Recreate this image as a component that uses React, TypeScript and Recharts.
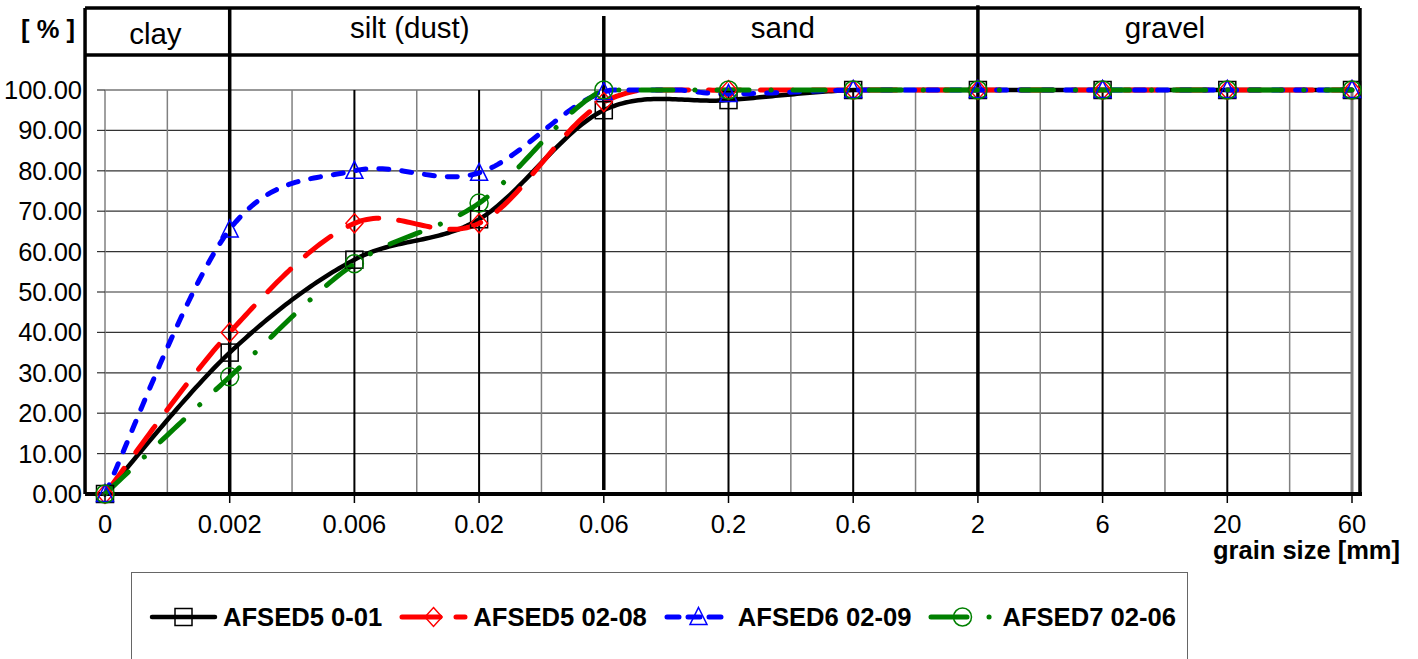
import React from 'react';
import {
  LineChart,
  Line,
  XAxis,
  YAxis,
  CartesianGrid,
  ReferenceLine,
  ReferenceArea,
  Legend
} from 'recharts';

// grain size classes (mm) and cumulative passing (%)
const grainSizes = ['0', '0.002', '0.006', '0.02', '0.06', '0.2', '0.6', '2', '6', '20', '60'];
const afsed5_001 = [0, 35, 58, 68, 95, 97.5, 100, 100, 100, 100, 100];
const afsed5_0208 = [0, 40, 67, 67, 97, 100, 100, 100, 100, 100, 100];
const afsed6_0209 = [0, 65.5, 80, 79.5, 99.5, 99, 100, 100, 100, 100, 100];
const afsed7_0206 = [0, 29, 57, 72, 100, 100, 100, 100, 100, 100, 100];
const sampleNames = ['AFSED5 0-01', 'AFSED5 02-08', 'AFSED6 02-09', 'AFSED7 02-06'];
const percentTicks = [0, 10, 20, 30, 40, 50, 60, 70, 80, 90, 100];
const fractionNames = ['clay', 'silt (dust)', 'sand', 'gravel'];
const fractionBounds = [0, 1, 4, 7, 10];

const FONT = '"Liberation Sans", Arial, sans-serif';
const W = 1418;
const H = 659;

// frame edges expressed in axis units (the frame sits outside the plotting area)
const FRAME_LEFT = -0.16;
const FRAME_RIGHT = 10.064;
const HEADER_TOP = 120.3;
const HEADER_BOTTOM = 108.66;

const rows = grainSizes.map((size, i) => ({
  i,
  size,
  s0: afsed5_001[i],
  s1: afsed5_0208[i],
  s2: afsed6_0209[i],
  s3: afsed7_0206[i]
}));

type Shape = 'square' | 'diamond' | 'triangle' | 'circle';

const seriesStyle: { key: string; color: string; dash?: string; width: number; shape: Shape; legendDash?: string }[] = [
  { key: 's0', color: '#000000', width: 4.5, shape: 'square' },
  { key: 's1', color: '#ff0000', dash: '32 20', width: 5, shape: 'diamond', legendDash: '38 16' },
  { key: 's2', color: '#0000ff', dash: '10 13', width: 5, shape: 'triangle', legendDash: '12 9' },
  { key: 's3', color: '#008000', dash: '32 22 0.1 22', width: 5, shape: 'circle', legendDash: '36 22 0.1 30' }
];

// Excel-like smoothing: cubic Bezier segments with Catmull-Rom control points,
// flattened and kept below the highest point (the plot top at 100 %)
const smoothCurve = (context: any) => {
  let xs: number[] = [];
  let ys: number[] = [];
  return {
    areaStart() {},
    areaEnd() {},
    lineStart() {
      xs = [];
      ys = [];
    },
    point(x: number, y: number) {
      xs.push(+x);
      ys.push(+y);
    },
    lineEnd() {
      const n = xs.length;
      if (!n) return;
      const top = Math.min(...ys);
      context.moveTo(xs[0], ys[0]);
      for (let i = 0; i < n - 1; i++) {
        const a = Math.max(i - 1, 0);
        const d = Math.min(i + 2, n - 1);
        const x0 = xs[i];
        const y0 = ys[i];
        const x1 = xs[i] + (xs[i + 1] - xs[a]) / 6;
        const y1 = ys[i] + (ys[i + 1] - ys[a]) / 6;
        const x2 = xs[i + 1] - (xs[d] - xs[i]) / 6;
        const y2 = ys[i + 1] - (ys[d] - ys[i]) / 6;
        const x3 = xs[i + 1];
        const y3 = ys[i + 1];
        const steps = 40;
        for (let s = 1; s <= steps; s++) {
          const t = s / steps;
          const u = 1 - t;
          const bx = u * u * u * x0 + 3 * u * u * t * x1 + 3 * u * t * t * x2 + t * t * t * x3;
          const by = u * u * u * y0 + 3 * u * u * t * y1 + 3 * u * t * t * y2 + t * t * t * y3;
          context.lineTo(bx, Math.max(by, top));
        }
      }
    }
  };
};

const Marker = ({ shape, cx, cy, color }: { shape: Shape; cx: number; cy: number; color: string }) => {
  const h = 8.5;
  if (shape === 'square')
    return <rect x={cx - h} y={cy - h} width={2 * h} height={2 * h} fill="none" stroke={color} strokeWidth={1.5} />;
  if (shape === 'diamond')
    return (
      <polygon
        points={`${cx},${cy - h - 1} ${cx + h},${cy} ${cx},${cy + h + 1} ${cx - h},${cy}`}
        fill="none"
        stroke={color}
        strokeWidth={1.5}
      />
    );
  if (shape === 'triangle')
    return (
      <polygon
        points={`${cx},${cy - h - 1} ${cx + h},${cy + h - 1} ${cx - h},${cy + h - 1}`}
        fill="none"
        stroke={color}
        strokeWidth={1.5}
      />
    );
  return <circle cx={cx} cy={cy} r={h + 0.5} fill="none" stroke={color} strokeWidth={1.5} />;
};

const LegendBox = () => (
  <div
    style={{
      boxSizing: 'border-box',
      width: 1057,
      height: 88,
      borderTop: '1.5px solid #666',
      borderLeft: '1.5px solid #666',
      borderRight: '1.5px solid #666',
      background: '#fff',
      display: 'flex',
      alignItems: 'center',
      paddingLeft: 18,
      fontFamily: FONT,
      fontWeight: 'bold',
      fontSize: 25.6,
      color: '#000',
      whiteSpace: 'nowrap'
    }}
  >
    {seriesStyle.map((s, k) => (
      <div key={s.key} style={{ display: 'flex', alignItems: 'center', marginRight: 18, flexShrink: 0 }}>
        <svg width={67} height={24} style={{ overflow: 'visible', flexShrink: 0 }}>
          <line
            x1={2}
            y1={12}
            x2={65}
            y2={12}
            stroke={s.color}
            strokeWidth={s.width}
            strokeDasharray={s.legendDash}
            strokeLinecap="round"
          />
          <Marker shape={s.shape} cx={33.5} cy={12} color={s.color} />
        </svg>
        <span style={{ marginLeft: 6, lineHeight: '24px' }}>{sampleNames[k]}</span>
      </div>
    ))}
  </div>
);

const headerOffsets = [
  { dx: -2, dy: 2 },
  { dx: -7, dy: -4 },
  { dx: -8, dy: -4 },
  { dx: -4, dy: -4 }
];

const frame = { stroke: '#000', strokeWidth: 3.5, ifOverflow: 'visible' as const };

export default function App() {
  const minorLines = [0, ...grainSizes.slice(1).map((_, i) => i + 0.5)];
  const majorLines = grainSizes.map((_, i) => i).filter((i) => !fractionBounds.includes(i));

  return (
    <div style={{ position: 'absolute', left: 0, top: 0, width: W, height: H, overflow: 'hidden', background: '#fff' }}>
      <LineChart
        width={W}
        height={H}
        data={rows}
        margin={{ top: 90, right: 66, bottom: 125, left: 0 }}
        style={{ fontFamily: FONT }}
      >
        <CartesianGrid horizontal vertical={false} stroke="#333" strokeWidth={1.2} />
        <XAxis
          dataKey="i"
          type="number"
          domain={[0, 10]}
          ticks={grainSizes.map((_, i) => i)}
          tickFormatter={(i: number) => grainSizes[i]}
          interval={0}
          axisLine={false}
          tickLine={{ stroke: '#000', strokeWidth: 1.5 }}
          tickSize={9}
          tickMargin={12}
          height={40}
          tick={{ fill: '#000', fontSize: 25.5 }}
          label={(props: any) => {
            const vb = props.viewBox;
            return (
              <text
                x={vb.x + vb.width + 48}
                y={vb.y + 65}
                textAnchor="end"
                fontWeight="bold"
                fontSize={25.5}
                fill="#000"
              >
                grain size [mm]
              </text>
            );
          }}
        />
        <YAxis
          type="number"
          domain={[0, 100]}
          ticks={percentTicks}
          tickFormatter={(v: number) => v.toFixed(2)}
          width={105}
          axisLine={false}
          tickLine={{ stroke: '#333', strokeWidth: 1.2 }}
          tickSize={8}
          tickMargin={15}
          tick={{ fill: '#000', fontSize: 25.5 }}
          label={(props: any) => {
            const vb = props.viewBox;
            return (
              <text x={48} y={vb.y - 52} textAnchor="middle" fontWeight="bold" fontSize={25.5} fill="#000">
                [ % ]
              </text>
            );
          }}
        />

        {minorLines.map((x) => (
          <ReferenceLine key={`mn${x}`} x={x} stroke="#808080" strokeWidth={1.5} />
        ))}
        <ReferenceLine x={10} stroke="#808080" strokeWidth={3} />
        {majorLines.map((x) => (
          <ReferenceLine key={`mj${x}`} x={x} stroke="#000" strokeWidth={2} />
        ))}

        {/* soil fraction header and outer frame */}
        {fractionNames.map((name, k) => (
          <ReferenceArea
            key={name}
            x1={k === 0 ? FRAME_LEFT : fractionBounds[k]}
            x2={k === fractionNames.length - 1 ? FRAME_RIGHT : fractionBounds[k + 1]}
            y1={HEADER_BOTTOM}
            y2={HEADER_TOP}
            fill="none"
            stroke="none"
            ifOverflow="visible"
            label={{
              value: name,
              position: 'center',
              fontSize: 29.5,
              fill: '#000',
              dx: headerOffsets[k].dx,
              dy: headerOffsets[k].dy
            }}
          />
        ))}
        <ReferenceLine {...frame} segment={[{ x: FRAME_LEFT, y: 0 }, { x: FRAME_LEFT, y: HEADER_TOP }]} />
        <ReferenceLine {...frame} segment={[{ x: FRAME_RIGHT, y: 0 }, { x: FRAME_RIGHT, y: HEADER_TOP }]} />
        <ReferenceLine {...frame} segment={[{ x: FRAME_LEFT, y: HEADER_TOP }, { x: FRAME_RIGHT, y: HEADER_TOP }]} />
        <ReferenceLine {...frame} segment={[{ x: FRAME_LEFT, y: HEADER_BOTTOM }, { x: FRAME_RIGHT, y: HEADER_BOTTOM }]} />
        <ReferenceLine {...frame} segment={[{ x: 1, y: 0 }, { x: 1, y: HEADER_TOP }]} />
        <ReferenceLine {...frame} segment={[{ x: 4, y: 1 }, { x: 4, y: 118.3 }]} />
        <ReferenceLine {...frame} segment={[{ x: 7, y: 0 }, { x: 7, y: 121 }]} />
        <ReferenceLine {...frame} strokeWidth={4} segment={[{ x: FRAME_LEFT, y: 0 }, { x: 10.08, y: 0 }]} />

        {seriesStyle.map((s, k) => (
          <Line
            key={s.key}
            dataKey={s.key}
            name={sampleNames[k]}
            type={smoothCurve as any}
            stroke={s.color}
            strokeWidth={s.width}
            strokeDasharray={s.dash}
            strokeLinecap="round"
            isAnimationActive={false}
            activeDot={false}
            dot={(p: any) => (
              <g key={`${s.key}-${p.index}`}>
                <Marker shape={s.shape} cx={p.cx} cy={p.cy} color={s.color} />
              </g>
            )}
          />
        ))}

        <Legend
          layout="vertical"
          align="center"
          verticalAlign="middle"
          wrapperStyle={{ left: 131, top: 572, width: 1057, height: 88 }}
          content={() => <LegendBox />}
        />
      </LineChart>
    </div>
  );
}
